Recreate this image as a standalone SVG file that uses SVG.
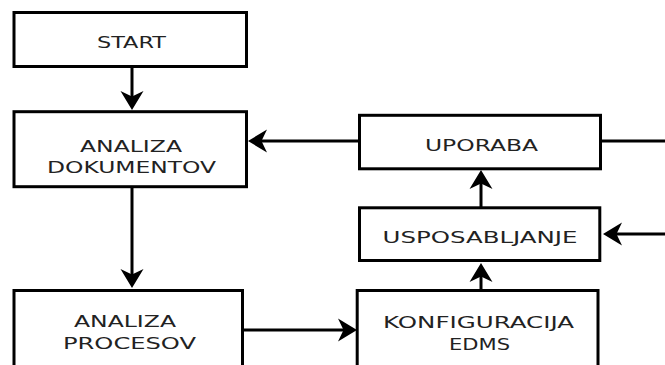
<svg xmlns="http://www.w3.org/2000/svg" width="665" height="365" viewBox="0 0 665 365">
<style>
.box{fill:#fff;stroke:#000;stroke-width:3}
.lbl{font-family:"DejaVu Sans","Liberation Sans",sans-serif;font-size:16px;fill:#222;text-anchor:middle}
.con{fill:none;stroke:#000;stroke-width:3}
</style>
<defs>
<marker id="ah" markerUnits="userSpaceOnUse" markerWidth="26" markerHeight="28" viewBox="-22 -14 26 28" refX="-10" refY="0" orient="auto">
<path d="M0,0 L-19,-11.5 L-13.5,0 L-19,11.5 Z" fill="#000"/>
</marker>
</defs>
<rect width="665" height="365" fill="#fff"/>
<g id="connectors">
<path class="con" d="M132,67 V100" marker-end="url(#ah)"/>
<path class="con" d="M132,187 V278" marker-end="url(#ah)"/>
<path class="con" d="M358,141 H258" marker-end="url(#ah)"/>
<path class="con" d="M601,141 H665"/>
<path class="con" d="M665,234 H613" marker-end="url(#ah)"/>
<path class="con" d="M481,207 V180" marker-end="url(#ah)"/>
<path class="con" d="M481,290 V273" marker-end="url(#ah)"/>
<path class="con" d="M243,330 H347" marker-end="url(#ah)"/>
</g>
<g id="start">
<rect class="box" x="14" y="12.5" width="232.5" height="54"/>
<text class="lbl" x="131.5" y="48" textLength="69" lengthAdjust="spacingAndGlyphs">START</text>
</g>
<g id="analiza-dokumentov">
<rect class="box" x="14" y="111.7" width="232.5" height="75"/>
<text class="lbl" x="131" y="152" textLength="102" lengthAdjust="spacingAndGlyphs">ANALIZA</text>
<text class="lbl" x="131.5" y="173" textLength="169" lengthAdjust="spacingAndGlyphs">DOKUMENTOV</text>
</g>
<g id="analiza-procesov">
<rect class="box" x="14" y="290.5" width="228.5" height="100"/>
<text class="lbl" x="125" y="327" textLength="102" lengthAdjust="spacingAndGlyphs">ANALIZA</text>
<text class="lbl" x="129.5" y="349" textLength="133" lengthAdjust="spacingAndGlyphs">PROCESOV</text>
</g>
<g id="uporaba">
<rect class="box" x="359.5" y="115.3" width="241" height="53.5"/>
<text class="lbl" x="481.5" y="151" textLength="113" lengthAdjust="spacingAndGlyphs">UPORABA</text>
</g>
<g id="usposabljanje">
<rect class="box" x="359.5" y="207.8" width="240.3" height="52.7"/>
<text class="lbl" x="480" y="243" textLength="195" lengthAdjust="spacingAndGlyphs">USPOSABLJANJE</text>
</g>
<g id="konfiguracija-edms">
<rect class="box" x="357.2" y="290.5" width="240.8" height="100"/>
<text class="lbl" x="478.5" y="328" textLength="191" lengthAdjust="spacingAndGlyphs">KONFIGURACIJA</text>
<text class="lbl" x="479.5" y="350" textLength="61" lengthAdjust="spacingAndGlyphs">EDMS</text>
</g>
</svg>
